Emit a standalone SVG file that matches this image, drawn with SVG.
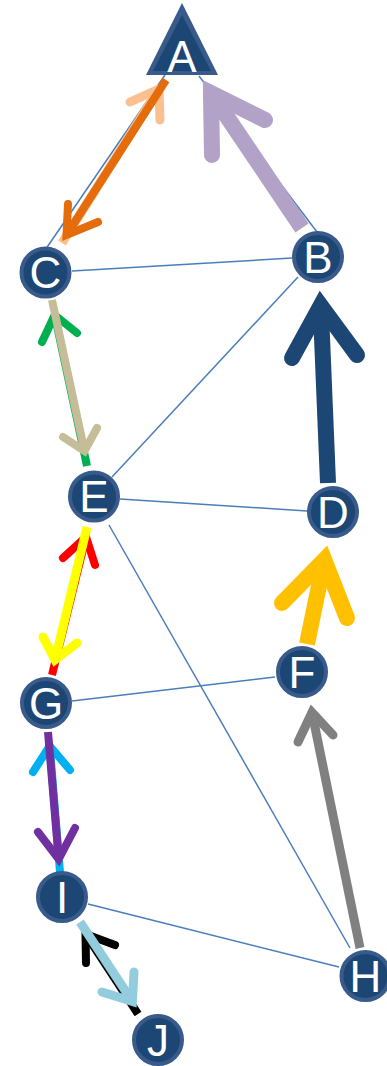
<svg xmlns="http://www.w3.org/2000/svg" width="387" height="1066" viewBox="0 0 387 1066">
<style>
.edge{stroke:#4a7ebb;stroke-width:1.5;fill:none}
.arr{fill:none;stroke-linejoin:miter;stroke-miterlimit:10}
.head{stroke-linecap:round}
.node circle{fill:#1c4673;stroke:#385b8c;stroke-width:4}
.node polygon.o{fill:#385b8c}
.node polygon.i{fill:#1c4673}
.lbl{font-family:"Liberation Sans",Arial,sans-serif;font-size:44px;fill:#fff;text-anchor:middle}
</style>
<rect width="387" height="1066" fill="#fff"/>
<g id="edges">
<line class="edge" x1="165" y1="75" x2="46.5" y2="248"/>
<line class="edge" x1="199" y1="76" x2="317" y2="232"/>
<line class="edge" x1="72" y1="271" x2="292" y2="258"/>
<line class="edge" x1="298" y1="277" x2="112" y2="477"/>
<line class="edge" x1="120" y1="499" x2="307" y2="511"/>
<line class="edge" x1="109" y1="525" x2="350" y2="948"/>
<line class="edge" x1="72" y1="701" x2="275" y2="677"/>
<line class="edge" x1="88" y1="904" x2="339" y2="967"/>
</g>
<g id="arrows">
<g id="C-A" stroke="#fac090" stroke-width="9" class="arr"><line x1="62" y1="243" x2="159" y2="89"/><polyline class="head" points="130,102 159,89 160,120"/></g>
<g id="A-C" stroke="#e46c0a" stroke-width="8" class="arr"><line x1="166" y1="80" x2="66.5" y2="235"/><polyline class="head" points="68,204 66.5,235 98,222"/></g>
<g id="B-A" stroke="#b3a2c7" stroke-width="16" class="arr"><line x1="302" y1="228" x2="211" y2="93"/><polyline class="head" points="212,155 211,93 265,120"/></g>
<g id="E-C" stroke="#00b050" stroke-width="8" class="arr"><line x1="87" y1="466" x2="54.7" y2="315"/><polyline class="head" points="42,342 54.7,315 77,333"/></g>
<g id="C-E" stroke="#c4bd97" stroke-width="8" class="arr"><line x1="52" y1="300" x2="84.5" y2="451"/><polyline class="head" points="63,437 84.5,451 97,428"/></g>
<g id="D-B" stroke="#1c4673" stroke-width="16" class="arr"><line x1="328" y1="483" x2="320.7" y2="305.5"/><polyline class="head" points="292,358 320.7,305.5 357,355"/></g>
<g id="G-E" stroke="#ff0000" stroke-width="8" class="arr"><line x1="52" y1="675" x2="86" y2="537"/><polyline class="head" points="63,558 86,537 95,565"/></g>
<g id="E-G" stroke="#ffff00" stroke-width="9" class="arr"><line x1="87" y1="527" x2="55" y2="660"/><polyline class="head" points="43,637 55,660 77,643"/></g>
<g id="F-D" stroke="#ffc000" stroke-width="16" class="arr"><line x1="307" y1="644" x2="324.3" y2="560"/><polyline class="head" points="282,603 324.3,560 347,618"/></g>
<g id="H-F" stroke="#808080" stroke-width="9" class="arr"><line x1="360" y1="948" x2="312" y2="712.5"/><polyline class="head" points="298,742 312,712.5 333,735"/></g>
<g id="I-G" stroke="#00b0f0" stroke-width="8" class="arr"><line x1="60" y1="872" x2="49.7" y2="746"/><polyline class="head" points="33,772 49.7,746 70,770"/></g>
<g id="G-I" stroke="#7030a0" stroke-width="8" class="arr"><line x1="48" y1="732" x2="58.7" y2="859"/><polyline class="head" points="38,832 58.7,859 75,828"/></g>
<g id="J-I" stroke="#000000" stroke-width="8" class="arr"><line x1="138" y1="1014" x2="85.5" y2="934"/><polyline class="head" points="86,963 85.5,934 115,945"/></g>
<g id="I-J" stroke="#93cddd" stroke-width="9" class="arr"><line x1="80" y1="922" x2="132.4" y2="1001.5"/><polyline class="head" points="102,992 132.4,1001.5 134,972"/></g>
</g>
<g id="A" class="node"><polygon class="o" points="182,3 146,75 218,75"/><polygon class="i" points="182,15 153,71 211,71"/><text class="lbl" x="182" y="72">A</text></g>
<g id="B" class="node"><circle cx="318" cy="257" r="24"/><text class="lbl" x="318" y="272.5">B</text></g>
<g id="C" class="node"><circle cx="45.5" cy="272.5" r="24"/><text class="lbl" x="45.5" y="288">C</text></g>
<g id="D" class="node"><circle cx="333" cy="512" r="24"/><text class="lbl" x="333" y="527.5">D</text></g>
<g id="E" class="node"><circle cx="94" cy="496.5" r="24"/><text class="lbl" x="94" y="512">E</text></g>
<g id="F" class="node"><circle cx="302" cy="672" r="24"/><text class="lbl" x="302" y="687.5">F</text></g>
<g id="G" class="node"><circle cx="46" cy="703" r="24"/><text class="lbl" x="46" y="718.5">G</text></g>
<g id="H" class="node"><circle cx="365.5" cy="976" r="24"/><text class="lbl" x="365.5" y="991.5">H</text></g>
<g id="I" class="node"><circle cx="62" cy="897" r="24"/><text class="lbl" x="62" y="912.5">I</text></g>
<g id="J" class="node"><circle cx="158" cy="1040" r="24"/><text class="lbl" x="158" y="1055.5">J</text></g>
</svg>
